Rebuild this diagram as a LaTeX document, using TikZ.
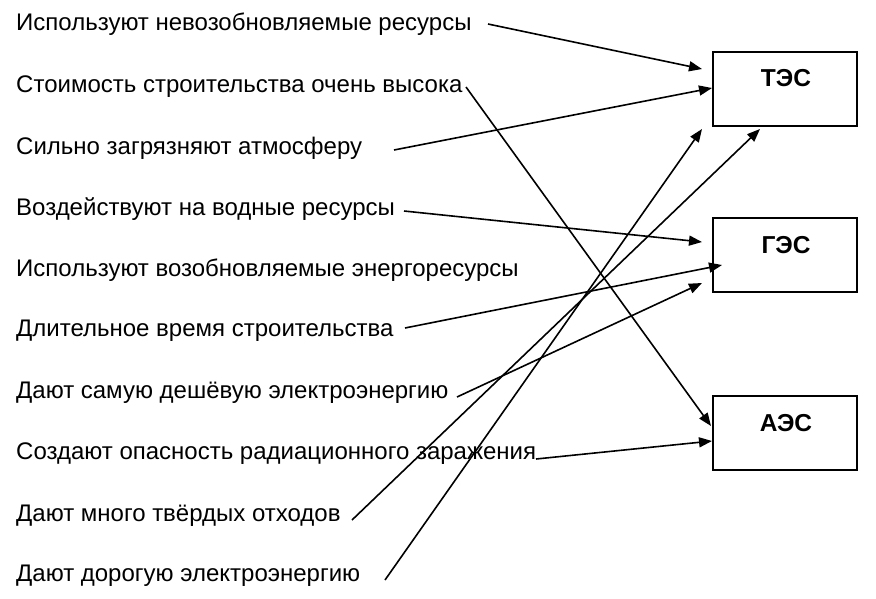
\documentclass[tikz,border=0pt]{standalone}
\usepackage{fontspec}
\setmainfont{Liberation Sans}
\usetikzlibrary{arrows.meta,calc}
\begin{document}
\begin{tikzpicture}[x=1pt,y=-1pt,
  item/.style={anchor=west,inner sep=0pt,font=\fontsize{24}{28}\selectfont},
  box/.style={draw,line width=2pt,minimum width=144pt,minimum height=74pt,inner sep=0pt},
  lbl/.style={inner sep=0pt,font=\fontsize{24.5}{28}\selectfont\bfseries},
  arr/.style={line width=1.6pt,-{Triangle[length=13pt,width=10pt]}}]
\useasboundingbox (0,0) rectangle (876,598);
\fill[white] (0,0) rectangle (876,598);
% left texts
\node[item] (t1)  at (16,24)  {Используют невозобновляемые ресурсы};
\node[item] (t2)  at (16,87)  {Стоимость строительства очень высока};
\node[item] (t3)  at (16,148) {Сильно загрязняют атмосферу};
\node[item] (t4)  at (16,209) {Воздействуют на водные ресурсы};
\node[item] (t5)  at (16,270) {Используют возобновляемые энергоресурсы};
\node[item] (t6)  at (16,331) {Длительное время строительства};
\node[item] (t7)  at (16,393) {Дают самую дешёвую электроэнергию};
\node[item] (t8)  at (16,454) {Создают опасность радиационного заражения};
\node[item] (t9)  at (16,516) {Дают много твёрдых отходов};
\node[item] (t10) at (16,576) {Дают дорогую электроэнергию};
% boxes
\node[box] (tes) at (785,89)  {};
\node[box] (ges) at (785,255) {};
\node[box] (aes) at (785,433) {};
\node[lbl] (ltes) at (786,78)  {ТЭС};
\node[lbl] (lges) at (786,245) {ГЭС};
\node[lbl] (laes) at (786,423) {АЭС};
% start points
\coordinate (s1)  at (488,24);
\coordinate (s2)  at (466,87);
\coordinate (s3)  at (394,150);
\coordinate (s4)  at (404,211);
\coordinate (s6)  at (405,328);
\coordinate (s7)  at (457,397);
\coordinate (s8)  at (536,459);
\coordinate (s9)  at (352,520);
\coordinate (s10) at (385,580);
% end points
\coordinate (e1)  at ($(tes.west)+(-10,-20)$);
\coordinate (e3)  at ($(tes.west)+(0,-1)$);
\coordinate (e9)  at ($(tes.south)+(-25,2)$);
\coordinate (e10) at ($(tes.south west)+(-10,2)$);
\coordinate (e4)  at ($(ges.west)+(-10,-13)$);
\coordinate (e6)  at ($(ges.west)+(10,10)$);
\coordinate (e7)  at ($(ges.west)+(-10,28)$);
\coordinate (e2)  at ($(aes.west)+(-1,-7)$);
\coordinate (e8)  at ($(aes.west)+(0,8)$);
% arrows
\draw[arr] (s1) -- (e1);
\draw[arr] (s2) -- (e2);
\draw[arr] (s3) -- (e3);
\draw[arr] (s4) -- (e4);
\draw[arr] (s6) -- (e6);
\draw[arr] (s7) -- (e7);
\draw[arr] (s8) -- (e8);
\draw[arr] (s9) -- (e9);
\draw[arr] (s10) -- (e10);
\end{tikzpicture}
\end{document}
